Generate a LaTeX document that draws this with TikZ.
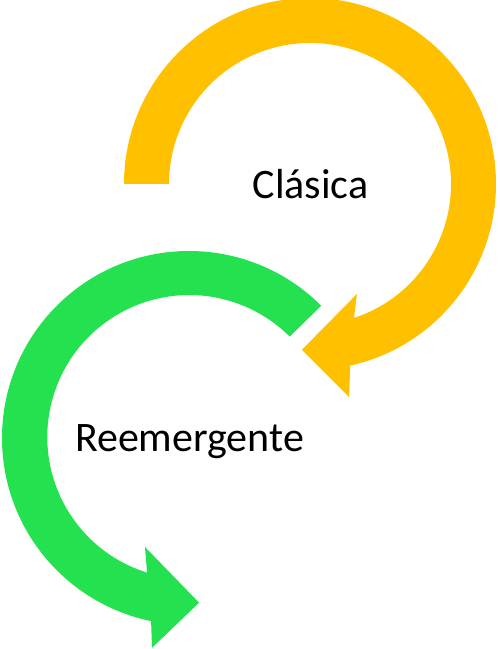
\documentclass[tikz,border=0pt]{standalone}
\usepackage{fontspec}
\setmainfont{Carlito}
\definecolor{gold}{HTML}{FFC000}
\definecolor{leaf}{HTML}{24E24F}

\begin{document}
\begin{tikzpicture}[x=1pt,y=1pt,
        caption/.style={font=\fontsize{42}{50}\selectfont,anchor=base,inner sep=0pt},
        band/.style={draw=none}]
  \useasboundingbox (0,0) rectangle (500,649);

  \coordinate (c_1) at (310,465);
  \coordinate (c_2) at (189,211);

  % upper ring, clockwise
  \fill[gold,band] (c_1) ++(180:186) arc[start angle=180, end angle=-77.5, radius=186]
        -- ([shift={(-79.6:216.5)}]c_1) -- ([shift={(-92.8:166)}]c_1)
        -- ([shift={(-66.9:119.6)}]c_1) -- ([shift={(-71.8:141)}]c_1)
        arc[start angle=-71.8, end angle=180, radius=141] -- cycle;

  % lower ring, counterclockwise
  \fill[leaf,band] (c_2) ++(45:187) arc[start angle=45, end angle=258.3, radius=187]
        -- ([shift={(260:213)}]c_2) -- ([shift={(273.5:165)}]c_2)
        -- ([shift={(248:117.5)}]c_2) -- ([shift={(252.7:141)}]c_2)
        arc[start angle=252.7, end angle=45, radius=142] -- cycle;

  \node[caption] (clasica) at (310.5,450) {Clásica};
  \node[caption] (reemergente) at (189.5,197) {Reemergente};

\end{tikzpicture}
\end{document}
